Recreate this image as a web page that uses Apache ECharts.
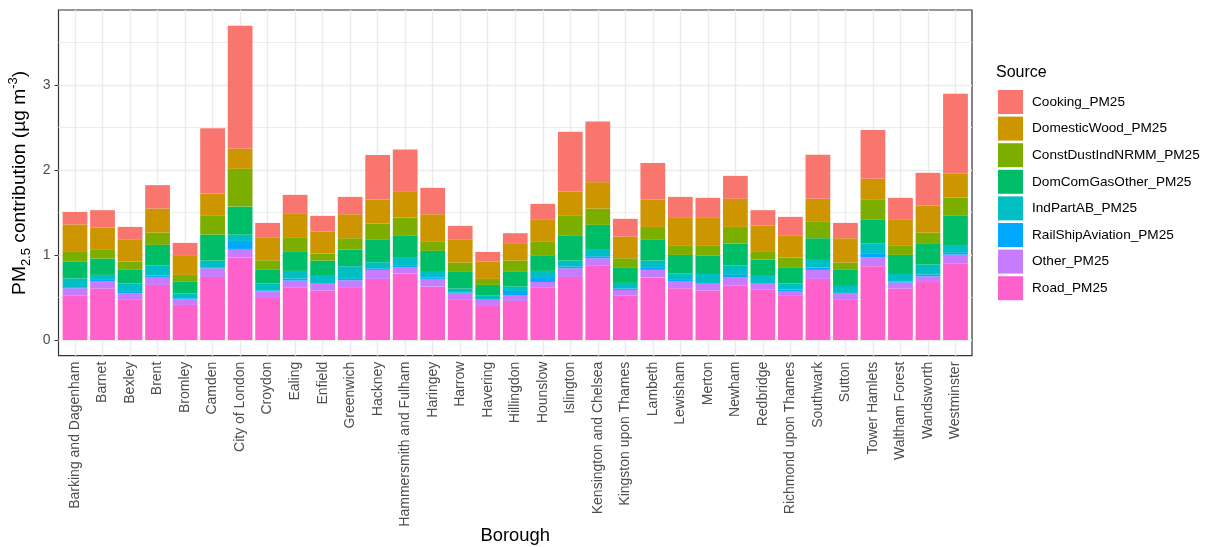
<!DOCTYPE html>
<html>
<head>
<meta charset="utf-8">
<script src="https://cdn.jsdelivr.net/npm/echarts@6/dist/echarts.min.js"></script>
<style>
  html, body { margin: 0; padding: 0; background: #ffffff; }
  #chart { width: 1207px; height: 547px; }
</style>
</head>
<body>
<div id="chart"></div>
<script>
// London boroughs, PM2.5 contribution by source (µg m-3)
const boroughs = [
  'Barking and Dagenham', 'Barnet', 'Bexley', 'Brent', 'Bromley', 'Camden',
  'City of London', 'Croydon', 'Ealing', 'Enfield', 'Greenwich', 'Hackney',
  'Hammersmith and Fulham', 'Haringey', 'Harrow', 'Havering', 'Hillingdon',
  'Hounslow', 'Islington', 'Kensington and Chelsea', 'Kingston upon Thames',
  'Lambeth', 'Lewisham', 'Merton', 'Newham', 'Redbridge', 'Richmond upon Thames',
  'Southwark', 'Sutton', 'Tower Hamlets', 'Waltham Forest', 'Wandsworth', 'Westminster'
];

const road = [0.526, 0.604, 0.471, 0.647, 0.412, 0.741, 0.970, 0.494, 0.620, 0.580, 0.612,
  0.718, 0.780, 0.627, 0.471, 0.400, 0.459, 0.620, 0.741, 0.878, 0.522, 0.733, 0.608,
  0.580, 0.639, 0.592, 0.518, 0.718, 0.471, 0.867, 0.604, 0.682, 0.902];
const other = [0.082, 0.082, 0.078, 0.094, 0.066, 0.102, 0.100, 0.079, 0.078, 0.079, 0.090,
  0.106, 0.075, 0.091, 0.074, 0.071, 0.070, 0.062, 0.102, 0.083, 0.066, 0.091, 0.078,
  0.079, 0.094, 0.067, 0.058, 0.106, 0.074, 0.102, 0.071, 0.067, 0.102];
const railShipAviation = [0.005, 0.020, 0.016, 0.016, 0.012, 0.012, 0.094, 0.007, 0.024, 0.008, 0.016,
  0.019, 0.016, 0.019, 0.012, 0.007, 0.047, 0.047, 0.020, 0.023, 0.016, 0.023, 0.020,
  0.008, 0.032, 0.008, 0.016, 0.027, 0.008, 0.043, 0.011, 0.020, 0.020];
const indPartAB = [0.110, 0.059, 0.098, 0.121, 0.059, 0.078, 0.074, 0.083, 0.090, 0.086, 0.149,
  0.071, 0.094, 0.063, 0.047, 0.048, 0.051, 0.083, 0.070, 0.075, 0.067, 0.086, 0.078,
  0.109, 0.113, 0.086, 0.071, 0.090, 0.082, 0.125, 0.090, 0.117, 0.082];
const domComGasOther = [0.196, 0.192, 0.168, 0.240, 0.141, 0.306, 0.330, 0.161, 0.223, 0.180, 0.196,
  0.270, 0.266, 0.247, 0.196, 0.121, 0.181, 0.184, 0.298, 0.294, 0.184, 0.251, 0.216,
  0.216, 0.255, 0.192, 0.192, 0.255, 0.189, 0.275, 0.224, 0.243, 0.353];
const constDustIndNRMM = [0.125, 0.102, 0.090, 0.144, 0.075, 0.220, 0.444, 0.113, 0.173, 0.083, 0.133,
  0.185, 0.208, 0.114, 0.110, 0.071, 0.125, 0.165, 0.228, 0.192, 0.106, 0.145, 0.114,
  0.114, 0.196, 0.090, 0.114, 0.192, 0.086, 0.235, 0.106, 0.134, 0.216];
const domesticWood = [0.314, 0.262, 0.263, 0.283, 0.223, 0.262, 0.239, 0.271, 0.274, 0.259, 0.282,
  0.282, 0.310, 0.317, 0.274, 0.203, 0.196, 0.251, 0.282, 0.310, 0.255, 0.318, 0.321,
  0.329, 0.330, 0.310, 0.262, 0.271, 0.286, 0.247, 0.314, 0.317, 0.278];
const cooking = [0.147, 0.205, 0.145, 0.275, 0.153, 0.769, 1.443, 0.168, 0.224, 0.184, 0.204,
  0.522, 0.490, 0.310, 0.157, 0.114, 0.126, 0.188, 0.706, 0.714, 0.208, 0.433, 0.247,
  0.236, 0.270, 0.181, 0.216, 0.517, 0.180, 0.573, 0.251, 0.385, 0.941];

const yTicks = [0, 1, 2, 3];

// Stack order: first entry sits at the bottom of each bar
const sources = [
  { name: 'Road_PM25', values: road, color: '#FF61CC' },
  { name: 'Other_PM25', values: other, color: '#C77CFF' },
  { name: 'RailShipAviation_PM25', values: railShipAviation, color: '#00A9FF' },
  { name: 'IndPartAB_PM25', values: indPartAB, color: '#00BFC4' },
  { name: 'DomComGasOther_PM25', values: domComGasOther, color: '#00BE67' },
  { name: 'ConstDustIndNRMM_PM25', values: constDustIndNRMM, color: '#7CAE00' },
  { name: 'DomesticWood_PM25', values: domesticWood, color: '#CD9600' },
  { name: 'Cooking_PM25', values: cooking, color: '#F8766D' }
];

// Panel geometry: the outer panel carries border, gridlines and axes;
// the inner band area holds the bars (0.6 category padding on each side).
const panel = { left: 58.5, top: 10, width: 913.5, height: 345.7 };
const xMin = 0.4, xMax = boroughs.length + 0.6;
const unitPx = panel.width / (xMax - xMin);
const positions = boroughs.map((_, i) => i + 1);
const bandArea = {
  left: panel.left + (0.5 - xMin) * unitPx,
  top: panel.top,
  width: boroughs.length * unitPx,
  height: panel.height
};

const totals = boroughs.map((_, i) => sources.reduce((s, src) => s + src.values[i], 0));
const topTotal = Math.max(...totals);
const pad = topTotal * 0.05;
const yMin = -pad, yMax = topTotal + pad;

const gridGrey = '#EBEBEB';
const hLines = [];
for (let v = 0; v <= yMax; v += 0.5) {
  hLines.push({ yAxis: v, lineStyle: { color: gridGrey, width: (v % 1 === 0) ? 1.4 : 0.9, type: 'solid' } });
}
const vLines = positions.map(p => ({ xAxis: p, lineStyle: { color: gridGrey, width: 1.4, type: 'solid' } }));

const gridSeries = {
  name: 'panel-grid',
  type: 'line',
  xAxisIndex: 0,
  yAxisIndex: 0,
  data: [],
  silent: true,
  showSymbol: false,
  z: 1,
  markLine: {
    silent: true,
    z: 1,
    symbol: ['none', 'none'],
    label: { show: false },
    emphasis: { disabled: true },
    animation: false,
    data: hLines.concat(vLines)
  }
};

const barSeries = sources.map(src => ({
  name: src.name,
  type: 'bar',
  xAxisIndex: 1,
  yAxisIndex: 1,
  stack: 'total',
  barWidth: '90%',
  z: 3,
  itemStyle: { color: src.color },
  emphasis: { disabled: true },
  data: src.values
}));

const chart = echarts.init(document.getElementById('chart'), null, { renderer: 'canvas' });
chart.setOption({
  animation: false,
  backgroundColor: '#ffffff',
  textStyle: { fontFamily: 'Liberation Sans, Arial, sans-serif' },
  title: {
    text: 'Source',
    left: 996,
    top: 65,
    padding: 0,
    textStyle: { fontSize: 16, fontWeight: 'normal', color: '#000000' }
  },
  legend: {
    orient: 'vertical',
    left: 998,
    top: 90,
    padding: 0,
    itemWidth: 25,
    itemHeight: 24,
    itemGap: 2.6,
    icon: 'rect',
    selectedMode: false,
    data: sources.map(s => s.name).reverse(),
    textStyle: { fontSize: 13.6, color: '#000000', padding: [0, 0, 0, 4] }
  },
  grid: [
    {
      left: panel.left, top: panel.top, width: panel.width, height: panel.height,
      outerBoundsMode: 'none', containLabel: false,
      show: true, backgroundColor: '#ffffff', borderColor: '#333333', borderWidth: 1.2
    },
    {
      left: bandArea.left, top: bandArea.top, width: bandArea.width, height: bandArea.height,
      outerBoundsMode: 'none', containLabel: false,
      show: false
    }
  ],
  xAxis: [
    {
      gridIndex: 0,
      type: 'value',
      min: xMin,
      max: xMax,
      name: 'Borough',
      nameLocation: 'middle',
      nameGap: 171,
      nameMoveOverlap: false,
      nameTextStyle: { fontSize: 18.4, color: '#000000' },
      axisLine: { show: false },
      splitLine: { show: false },
      axisTick: { show: true, customValues: positions, length: 4, lineStyle: { color: '#333333' } },
      axisLabel: {
        customValues: positions,
        rotate: 90,
        margin: 6,
        fontSize: 14,
        color: '#4D4D4D',
        formatter: v => boroughs[Math.round(v) - 1]
      }
    },
    {
      gridIndex: 1,
      type: 'category',
      data: boroughs,
      show: false
    }
  ],
  yAxis: [
    {
      gridIndex: 0,
      type: 'value',
      min: yMin,
      max: yMax,
      name: '{t|PM}{sub|2.5}{t| contribution (µg m}{sup|-3}{t|)}',
      nameLocation: 'middle',
      nameRotate: 90,
      nameGap: 26,
      nameMoveOverlap: false,
      nameTextStyle: {
        color: '#000000',
        rich: {
          t: { fontSize: 19.2, color: '#000000', lineHeight: 26, verticalAlign: 'middle' },
          sub: { fontSize: 13, color: '#000000', lineHeight: 26, verticalAlign: 'bottom', padding: [7, 0, 0, 0] },
          sup: { fontSize: 13, color: '#000000', lineHeight: 26, verticalAlign: 'top', padding: [0, 0, 9, 0] }
        }
      },
      axisLine: { show: false },
      splitLine: { show: false },
      axisTick: { show: true, customValues: yTicks, length: 4, lineStyle: { color: '#333333' } },
      axisLabel: { customValues: yTicks, margin: 8, fontSize: 14, color: '#4D4D4D' }
    },
    {
      gridIndex: 1,
      type: 'value',
      min: yMin,
      max: yMax,
      show: false,
      splitLine: { show: false }
    }
  ],
  series: [gridSeries].concat(barSeries)
});
</script>
</body>
</html>
